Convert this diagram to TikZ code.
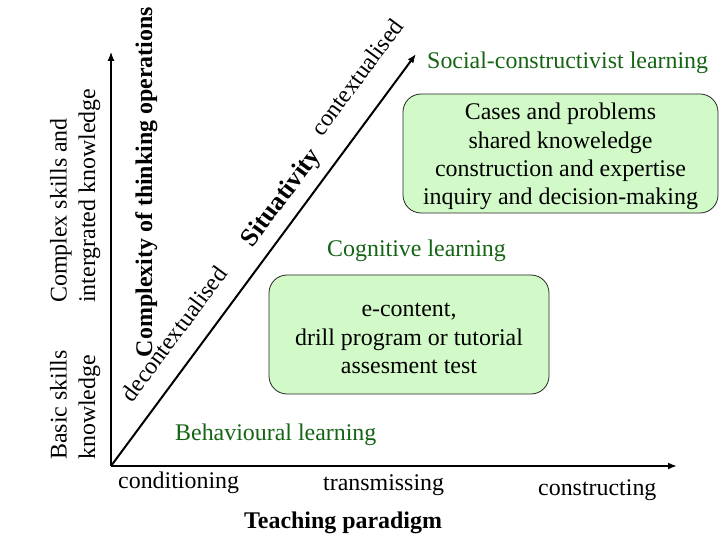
\documentclass[tikz,border=0pt]{standalone}
\usepackage{fontspec}
\setmainfont{Liberation Serif}
\usetikzlibrary{arrows.meta}
\definecolor{dkgreen}{RGB}{20,100,20}
\definecolor{boxfill}{RGB}{210,250,200}
\begin{document}
\begin{tikzpicture}[x=1bp,y=-1bp,
  txt/.style={font=\fontsize{24}{28.5}\selectfont, inner sep=0pt},
  btxt/.style={font=\fontsize{24}{28.5}\selectfont\bfseries, inner sep=0pt},
  lvl/.style={txt, text=dkgreen, anchor=base west},
  axlbl/.style={txt, anchor=base west},
  box/.style={draw=black!85, line width=0.8bp, fill=boxfill, rounded corners=18bp},
  arr/.style={-{Latex[length=9bp,width=7bp]}}]
\useasboundingbox (0,0) rectangle (720,540);
% axes
\coordinate (o) at (111,466);
\coordinate (xend) at (677,466);
\coordinate (yend) at (111,52);
\coordinate (dend) at (416,54);
\draw[arr, line width=2bp] (o) -- (xend);
\draw[arr, line width=1.2bp] (o) -- (yend);
\draw[arr, line width=2bp] (o) -- (dend);
% diagonal labels
\node[txt, rotate=53.42, anchor=base] (dec) at (180.5,338.5) {decontextualised};
\node[btxt, font=\fontsize{26}{30}\selectfont\bfseries, rotate=53.42, anchor=base] (sit) at (287,202) {Situativity};
\node[txt, rotate=53.42, anchor=base] (con) at (363.5,82) {contextualised};
% vertical labels
\node[btxt, rotate=90, anchor=base] (cplx) at (152,182) {Complexity of thinking operations};
\node[txt, rotate=90, anchor=base west, align=left] (basic) at (95,460) {Basic skills\\knowledge};
\node[txt, rotate=90, anchor=base west, align=left] (complex) at (95,303) {Complex skills and\\intergrated knowledge};
% learning levels
\node[lvl] (soc) at (427,69) {Social-constructivist learning};
\node[lvl] (cog) at (327,257) {Cognitive learning};
\node[lvl] (beh) at (175,440) {Behavioural learning};
% boxes
\node[box, minimum width=315bp, minimum height=119bp] (b1) at (560.5,153.5) {};
\node[txt, align=center] (t1) at (560.5,156.5)
  {Cases and problems\\shared knoweledge\\construction and expertise\\inquiry and decision-making};
\node[box, minimum width=280bp, minimum height=119bp] (b2) at (409,334.5) {};
\node[txt, align=center] (t2) at (409,338.5)
  {e-content,\\drill program or tutorial\\assesment test};
% horizontal axis labels
\node[axlbl] (cond) at (118,488) {conditioning};
\node[axlbl] (trans) at (323,490) {transmissing};
\node[axlbl] (cons) at (538,495) {constructing};
\node[btxt, anchor=base west] (teach) at (244,528) {Teaching paradigm};
\end{tikzpicture}
\end{document}
